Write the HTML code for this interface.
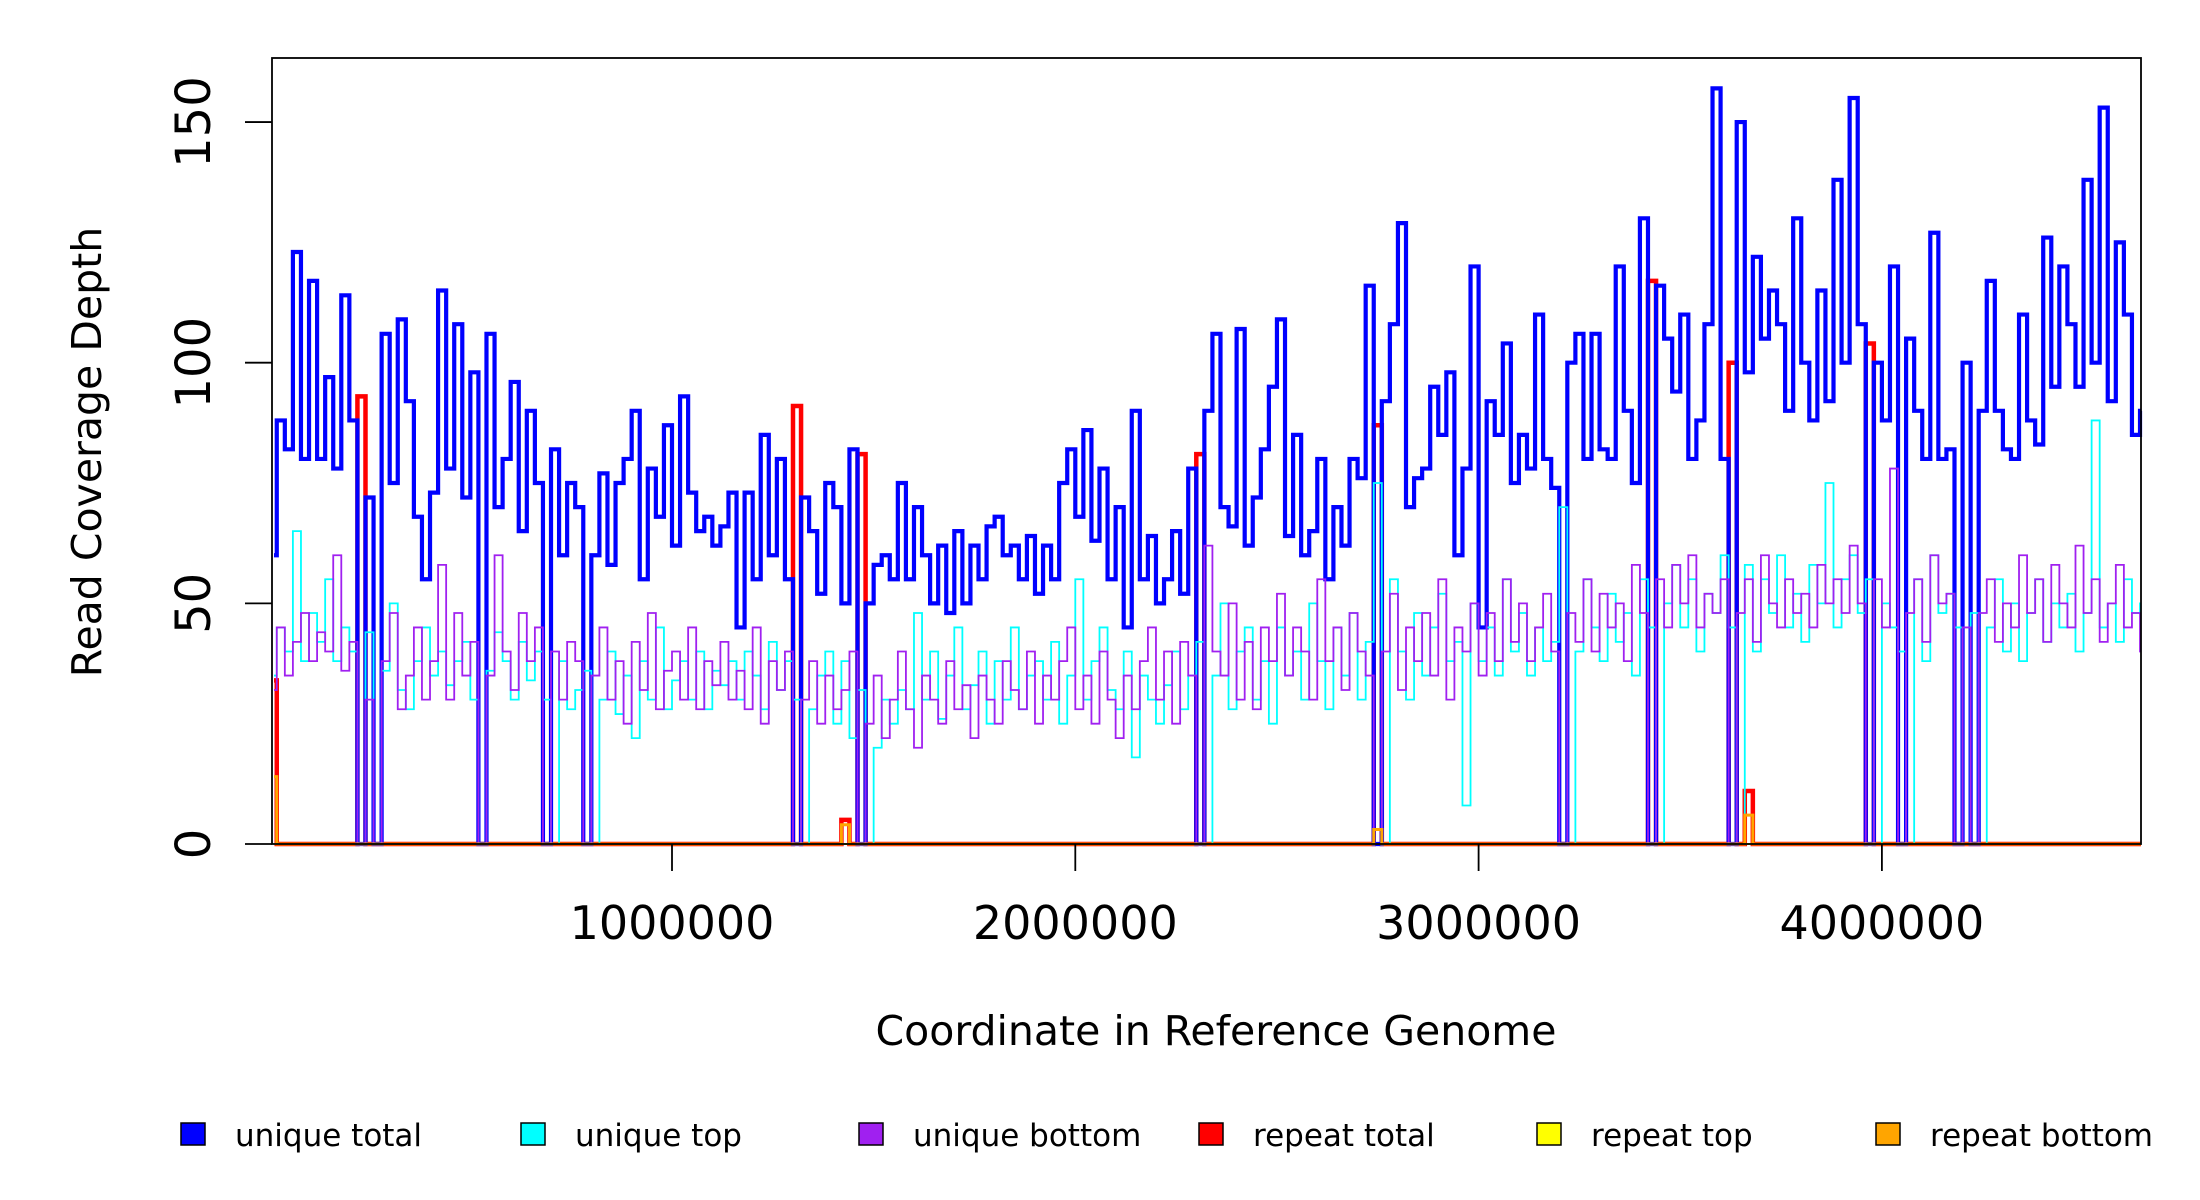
<!DOCTYPE html>
<html><head><meta charset="utf-8"><style>
body{margin:0;background:#fff;}
svg{display:block;font-family:"DejaVu Sans","Liberation Sans",sans-serif;}
</style></head><body>
<svg id="chart" width="2200" height="1200" viewBox="0 0 2200 1200">
<g id="series"></g>
<rect x="272" y="58" width="1869" height="786" fill="none" stroke="#000" stroke-width="1.8"/>
<g id="axes"></g>
<text x="1216" y="1045" font-size="41" text-anchor="middle">Coordinate in Reference Genome</text>
<text transform="translate(101,452) rotate(-90)" font-size="41" text-anchor="middle">Read Coverage Depth</text>
<g id="legend"></g>
</svg>
<script>
const binSize = 20000;
const uniqueTotal = [60,88,82,123,80,117,80,97,78,114,88,0,72,0,106,75,109,92,68,55,73,115,78,108,72,98,0,106,70,80,96,65,90,75,0,82,60,75,70,0,60,77,58,75,80,90,55,78,68,87,62,93,73,65,68,62,66,73,45,73,55,85,60,80,55,0,72,65,52,75,70,50,82,0,50,58,60,55,75,55,70,60,50,62,48,65,50,62,55,66,68,60,62,55,64,52,62,55,75,82,68,86,63,78,55,70,45,90,55,64,50,55,65,52,78,0,90,106,70,66,107,62,72,82,95,109,64,85,60,65,80,55,70,62,80,76,116,0,92,108,129,70,76,78,95,85,98,60,78,120,45,92,85,104,75,85,78,110,80,74,0,100,106,80,106,82,80,120,90,75,130,0,116,105,94,110,80,88,108,157,80,0,150,98,122,105,115,108,90,130,100,88,115,92,138,100,155,108,0,100,88,120,0,105,90,80,127,80,82,0,100,0,90,117,90,82,80,110,88,83,126,95,120,108,95,138,100,153,92,125,110,85,90];
const uniqueTop = [35,45,40,65,38,48,42,55,38,45,40,0,44,0,36,50,32,28,38,45,35,40,33,38,42,30,0,36,44,38,30,42,34,40,30,0,38,28,32,36,0,
30,40,27,35,22,38,30,45,28,34,38,30,40,28,36,33,38,30,40,35,28,42,32,38,30,0,28,35,40,25,38,22,32,0,
20,30,25,32,28,48,30,40,26,35,45,28,33,40,25,38,30,45,28,35,38,30,42,25,35,55,30,38,45,32,28,40,18,35,30,25,33,40,28,35,42,0,
35,50,28,40,45,30,38,25,45,35,40,30,50,38,28,45,35,48,30,42,75,0,
55,40,30,48,35,45,52,38,42,8,50,38,45,35,55,40,48,35,45,38,42,70,0,
40,55,45,38,52,42,48,35,55,45,0,
50,58,45,55,40,52,48,60,45,0,
58,40,55,48,60,45,52,42,58,50,75,45,55,60,48,55,0,
50,45,40,0,
55,38,60,48,52,45,0,
48,0,
45,55,40,50,38,48,55,42,50,45,52,40,48,88,45,50,42,55,48,50,45];
const uniqueBottom = [32,45,35,42,48,38,44,40,60,36,42,0,30,0,38,48,28,35,45,30,38,58,30,48,35,42,0,35,60,40,32,48,38,45,0,40,30,42,38,0,35,
45,30,38,25,42,32,48,28,36,40,30,45,28,38,33,42,30,36,28,45,25,38,32,40,0,
30,38,25,35,28,32,40,0,
25,35,22,30,40,28,20,35,30,25,38,28,33,22,35,30,25,38,32,28,40,25,35,30,38,45,28,35,25,40,30,22,35,28,38,45,30,40,25,42,35,0,
62,40,35,50,30,42,28,45,38,52,35,45,40,30,55,38,45,32,48,40,35,0,
40,52,32,45,38,48,35,55,30,45,40,50,35,48,38,55,42,50,38,45,52,40,0,
48,42,55,40,52,45,50,38,58,48,0,
55,45,58,50,60,45,52,48,55,0,
48,55,42,60,50,45,55,48,52,45,58,50,55,48,62,50,0,
55,45,78,0,
48,55,42,60,50,52,0,
45,0,
48,55,42,50,45,60,48,55,42,58,50,45,62,48,55,42,50,58,45,48,40];
const repeatTotalBins = [0,11,65,71,73,115,137,171,181,183,198];
const repeatTotalVals = [34,93,91,5,81,81,87,117,100,11,104];
const repeatTopBins = [];
const repeatTopVals = [];
const repeatBottomBins = [0,71,137,183];
const repeatBottomVals = [14,4,3,6];
const yTicks = [0,50,100,150];
const xTicks = [1000000,2000000,3000000,4000000];
const legendLabels = ["unique total","unique top","unique bottom","repeat total","repeat top","repeat bottom"];
const legendColors = ["#0000ff","#00ffff","#a020f0","#ff0000","#ffff00","#ffa500"];

const NS="http://www.w3.org/2000/svg";
const L=272,R=2141,T=58,B=844;
const xs=c=>268.7+403.3*c/1e6;
const ys=v=>844-4.813*v;
const nBins=Math.ceil(4645000/binSize);
function dense(bins,vals){const a=new Array(nBins).fill(0);bins.forEach((b,i)=>a[b]=vals[i]);return a;}
function stepPath(arr){let d="";for(let i=0;i<arr.length;i++){const x0=Math.max(L+2,xs(i*binSize)),x1=Math.min(R,xs((i+1)*binSize));const y=ys(arr[i]);if(x0>=R)break;d+=(i===0?"M"+x0+","+y:"V"+y)+"H"+x1;}return d;}
const sg=document.getElementById('series');
function addLine(arr,color,w,name){const p=document.createElementNS(NS,'path');p.setAttribute('d',stepPath(arr));p.setAttribute('fill','none');p.setAttribute('stroke',color);p.setAttribute('stroke-width',w);


sg.appendChild(p);}
addLine(dense(repeatTotalBins,repeatTotalVals),'#ff0000',4.5,'repeat-total-line');
addLine(dense(repeatTopBins,repeatTopVals),'#ffff00',2,'repeat-top-line');
addLine(uniqueTotal,'#0000ff',4.2,'unique-total-line');
addLine(uniqueTop,'#00ffff',1.8,'unique-top-line');
addLine(uniqueBottom,'#a020f0',1.8,'unique-bottom-line');
addLine(dense(repeatBottomBins,repeatBottomVals),'#ffa500',3,'repeat-bottom-line');

const ax=document.getElementById('axes');
yTicks.forEach(v=>{const y=ys(v);const l=document.createElementNS(NS,'line');l.setAttribute('x1',L);l.setAttribute('x2',L-27);l.setAttribute('y1',y);l.setAttribute('y2',y);l.setAttribute('stroke','#000');l.setAttribute('stroke-width',1.8);


ax.appendChild(l);const t=document.createElementNS(NS,'text');t.setAttribute('transform','translate(210,'+y+') rotate(-90)');t.setAttribute('text-anchor','middle');t.setAttribute('font-size','48');t.textContent=v;


ax.appendChild(t);});
xTicks.forEach(v=>{const x=xs(v);const l=document.createElementNS(NS,'line');l.setAttribute('x1',x);l.setAttribute('x2',x);l.setAttribute('y1',B);l.setAttribute('y2',B+27);l.setAttribute('stroke','#000');l.setAttribute('stroke-width',1.8);


ax.appendChild(l);const t=document.createElementNS(NS,'text');t.setAttribute('x',x);t.setAttribute('y',939);t.setAttribute('text-anchor','middle');t.setAttribute('font-size','46');t.textContent=v;


ax.appendChild(t);});

const lg=document.getElementById('legend');
const boxX=[181,521,859,1199,1537,1876];
legendLabels.forEach((lab,i)=>{const r=document.createElementNS(NS,'rect');r.setAttribute('x',boxX[i]);r.setAttribute('y',1123);r.setAttribute('width',24);r.setAttribute('height',22);r.setAttribute('fill',legendColors[i]);r.setAttribute('stroke','#000');r.setAttribute('stroke-width',1.5);


lg.appendChild(r);const t=document.createElementNS(NS,'text');t.setAttribute('x',boxX[i]+54);t.setAttribute('y',1146);t.setAttribute('font-size','31');t.textContent=lab;


lg.appendChild(t);});
</script>
</body></html>
